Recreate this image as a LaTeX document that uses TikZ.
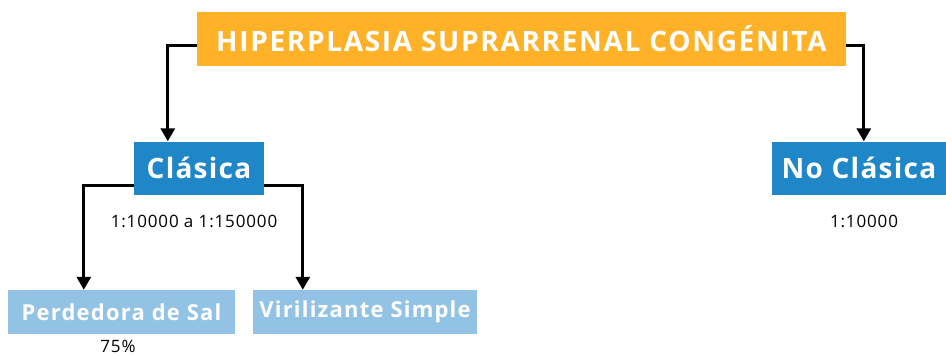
\documentclass[tikz,border=0pt]{standalone}
\usepackage{fontspec}
\setmainfont{Open Sans}
\newfontfamily\topfont[LetterSpace=6]{Open Sans}
\newfontfamily\midfont[LetterSpace=4.5]{Open Sans}
\newfontfamily\lowfont[LetterSpace=5.5]{Open Sans}
\newfontfamily\numfont[LetterSpace=5]{Open Sans}
\usetikzlibrary{arrows.meta,calc}
\definecolor{orangebox}{HTML}{FFB128}
\definecolor{bluebox}{HTML}{1F86C8}
\definecolor{lightbox}{HTML}{93C3E4}
\begin{document}
\begin{tikzpicture}[x=1pt,y=-1pt,
  topbox/.style={fill=orangebox,text=white,font=\topfont\fontsize{28}{30}\selectfont\bfseries,inner sep=0pt,minimum width=649pt,minimum height=54pt},
  midbox/.style={fill=bluebox,text=white,font=\midfont\fontsize{28}{30}\selectfont\bfseries,inner sep=0pt,minimum height=53pt},
  lowbox/.style={fill=lightbox,text=white,font=\lowfont\fontsize{22}{24}\selectfont\bfseries,inner sep=0pt,minimum height=44pt},
  numtext/.style={font=\numfont\fontsize{17}{18}\selectfont,inner sep=0pt},
  arr/.style={line width=3pt,-{Triangle[length=13pt,width=14pt]}}]
\useasboundingbox (0,0) rectangle (946,356);
\node[topbox] (top) at (521.5,39) {HIPERPLASIA SUPRARRENAL CONGÉNITA};
\node[midbox,minimum width=130pt] (clas) at (199,168) {Clásica};
\node[midbox,minimum width=174pt] (noclas) at (859,168) {No Clásica};
\node[lowbox,minimum width=227pt] (perd) at (121.5,312) {Perdedora de Sal};
\node[lowbox,minimum width=224pt] (viril) at (365,312) {Virilizante Simple};
\node[numtext] (r1) at (194,221) {1:10000 a 1:150000};
\node[numtext] (r2) at (864,221) {1:10000};
\node[numtext] (p1) at (118,346) {75\%};
\coordinate (tl) at ($(top.west)+(0,6)$);
\coordinate (tr) at ($(top.east)+(0,6)$);
\coordinate (cl) at ($(clas.west)+(0,17)$);
\coordinate (cr) at ($(clas.east)+(0,17)$);
\draw[arr] (tl) -| ($(clas.north west)+(34,0)$);
\draw[arr] (tr) -| ($(noclas.north west)+(92,0)$);
\draw[arr] (cl) -| ($(perd.north west)+(76,0)$);
\draw[arr] (cr) -| ($(viril.north west)+(50,0)$);
\end{tikzpicture}
\end{document}
